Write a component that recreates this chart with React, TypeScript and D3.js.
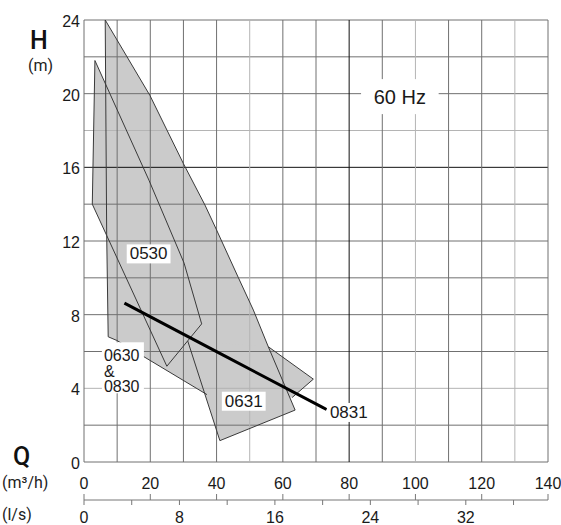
import React from 'react';
import * as d3 from 'd3';

const W = 561;
const H = 525;
const margin = { left: 84, right: 13, top: 20, bottom: 63 };

// axes
const hTicks = [0, 4, 8, 12, 16, 20, 24];
const qTicks = [0, 20, 40, 60, 80, 100, 120, 140];
const lsTicks = [0, 8, 16, 24, 32];
const lsMinorTicks = [4, 12, 20, 28, 36];
const gridQ = [0, 10, 20, 30, 40, 50, 60, 70, 80, 90, 100, 110, 120, 130, 140];
const gridH = [0, 2, 4, 6, 8, 10, 12, 14, 16, 18, 20, 22, 24];
const lightQ = [50, 100, 130];
const lightH = [18, 4];
const darkQ = [80];
const darkH = [16];

// pump ranges [Q m3/h, H m]
const area0530 = [[3.3, 21.8], [19.6, 15.3], [30.2, 10.8], [35.5, 7.5], [25.0, 5.2], [2.5, 14.0]];
const area0630 = [
  [6.4, 24], [19.9, 19.9], [30.0, 16.2], [36.5, 13.95], [40.0, 12.6], [46.6, 10.0],
  [51.1, 8.25], [55.6, 6.26], [69.2, 4.5], [62.8, 3.5], [37.1, 3.66], [9.9, 6.6],
  [7.3, 6.8], [6.85, 12.3],
];
const area0631 = [[55.6, 6.26], [63.7, 2.82], [41.0, 1.16], [31.3, 6.57]];
const edge0630 = [
  [37.1, 3.66], [9.9, 6.6], [7.3, 6.8], [6.85, 12.3], [6.4, 24], [19.9, 19.9],
  [30.0, 16.2], [36.5, 13.95], [40.0, 12.6], [46.6, 10.0], [51.1, 8.25], [55.6, 6.26],
  [69.2, 4.5], [62.8, 3.5],
];
const edge0631 = [[55.6, 6.26], [63.7, 2.82], [41.0, 1.16], [31.3, 6.57]];
const line0831 = [[12.2, 8.63], [42, 5.8], [73.2, 2.85]];

const labels = [
  { text: '0530', q: 19.5, h: 11.3, anchor: 'middle' },
  { text: '0631', q: 48.2, h: 3.3, anchor: 'middle' },
  { text: '0831', q: 74.2, h: 2.69, anchor: 'start' },
];
const stackedLabel = ['0630', '&', '0830'];

const font = "'Liberation Sans', Arial, sans-serif";
const dinFont = "Roboto, 'Liberation Sans', sans-serif";

const Label = ({ x, y, text, anchor, size = 17, padX = 3, boxH = 19 }) => {
  const w = text.length * 0.556 * size;
  const x0 = anchor === 'middle' ? x - w / 2 : x;
  return (
    <g>
      <rect x={x0 - padX} y={y - boxH / 2} width={w + padX * 2} height={boxH} fill="#fff" />
      <text x={x} y={y} textAnchor={anchor} dominantBaseline="central" fontSize={size} fill="#1a1a1a">
        {text}
      </text>
    </g>
  );
};

export default function App() {
  const x = d3.scaleLinear().domain([0, 140]).range([margin.left, W - margin.right]);
  const y = d3.scaleLinear().domain([0, 24]).range([H - margin.bottom, margin.top]);
  const ls = d3.scaleLinear().domain([0, 140 / 3.6]).range([margin.left, W - margin.right]);

  const line = d3.line().x((d) => x(d[0])).y((d) => y(d[1]));
  const curve = d3.line().x((d) => x(d[0])).y((d) => y(d[1])).curve(d3.curveMonotoneX);

  const gridColor = (v, light, dark) =>
    dark.includes(v) ? '#111' : light.includes(v) ? '#b4b4b4' : '#707070';

  const axisY = 500;

  return (
    <svg width={W} height={H} style={{ position: 'absolute', left: 0, top: 0 }} fontFamily={font}>
      <rect width={W} height={H} fill="#fff" />

      {/* gray ranges */}
      {[area0530, area0630, area0631].map((a, i) => (
        <path key={i} d={line(a) + 'Z'} fill="#cbcbcb" stroke="none" />
      ))}

      {/* grid */}
      {gridH.map((v) => (
        <line key={'h' + v} x1={x(0)} x2={x(140)} y1={y(v)} y2={y(v)}
          stroke={gridColor(v, lightH, darkH)} strokeWidth={1} />
      ))}
      {gridQ.map((v) => (
        <line key={'q' + v} x1={x(v)} x2={x(v)} y1={y(0)} y2={y(24)}
          stroke={gridColor(v, lightQ, darkQ)} strokeWidth={1} />
      ))}

      {/* outlines */}
      <path d={line(area0530) + 'Z'} fill="none" stroke="#3a3a3a" strokeWidth={1} />
      <path d={line(edge0630)} fill="none" stroke="#3a3a3a" strokeWidth={1} />
      <path d={line(edge0631)} fill="none" stroke="#3a3a3a" strokeWidth={1} />

      <path d={curve(line0831)} fill="none" stroke="#000" strokeWidth={3} />

      {/* labels */}
      {labels.map((l) => (
        <Label key={l.text} x={x(l.q)} y={y(l.h)} text={l.text} anchor={l.anchor} />
      ))}
      <rect x={x(5.4)} y={y(6.5)} width={42} height={51} fill="#fff" />
      {stackedLabel.map((t, i) => (
        <text key={i} x={x(6.0)} y={y(5.46) + i * 15.5} fontSize={16} fill="#1a1a1a">{t}</text>
      ))}
      <Label x={x(95.3)} y={y(19.84)} text="60 Hz" anchor="middle" size={20} padX={11} boxH={35} />

      {/* H axis */}
      {hTicks.map((v) => (
        <text key={v} x={80} y={y(v) + 1.5} textAnchor="end" dominantBaseline="central" fontSize={16} fill="#1a1a1a">
          {v}
        </text>
      ))}
      <text x={30} y={49} fontSize={25} fontFamily={dinFont} fontWeight={500} fill="#111">H</text>
      <text x={28} y={71} fontSize={16} fontFamily={dinFont} fill="#222">(m)</text>

      {/* Q axes */}
      <text x={13} y={465} fontSize={25} fontFamily={dinFont} fontWeight={500} fill="#111">Q</text>
      <text x={2} y={488} fontSize={16} fontFamily={dinFont} fill="#222">(m³/h)</text>
      <text x={2} y={520} fontSize={16} fontFamily={dinFont} fill="#222">(l/s)</text>
      {qTicks.map((v) => (
        <text key={v} x={x(v)} y={489} textAnchor="middle" fontSize={16} fill="#1a1a1a">{v}</text>
      ))}
      <line x1={x(0)} x2={x(140)} y1={axisY} y2={axisY} stroke="#777" strokeWidth={1} />
      {qTicks.map((v) => (
        <line key={'qt' + v} x1={x(v)} x2={x(v)} y1={axisY - 6} y2={axisY} stroke="#777" />
      ))}
      {lsTicks.concat(lsMinorTicks).map((v) => (
        <line key={'lt' + v} x1={ls(v)} x2={ls(v)} y1={axisY} y2={axisY + 5} stroke="#777" />
      ))}
      {lsTicks.map((v) => (
        <text key={'l' + v} x={ls(v)} y={523} textAnchor="middle" fontSize={16} fill="#1a1a1a">{v}</text>
      ))}
    </svg>
  );
}
